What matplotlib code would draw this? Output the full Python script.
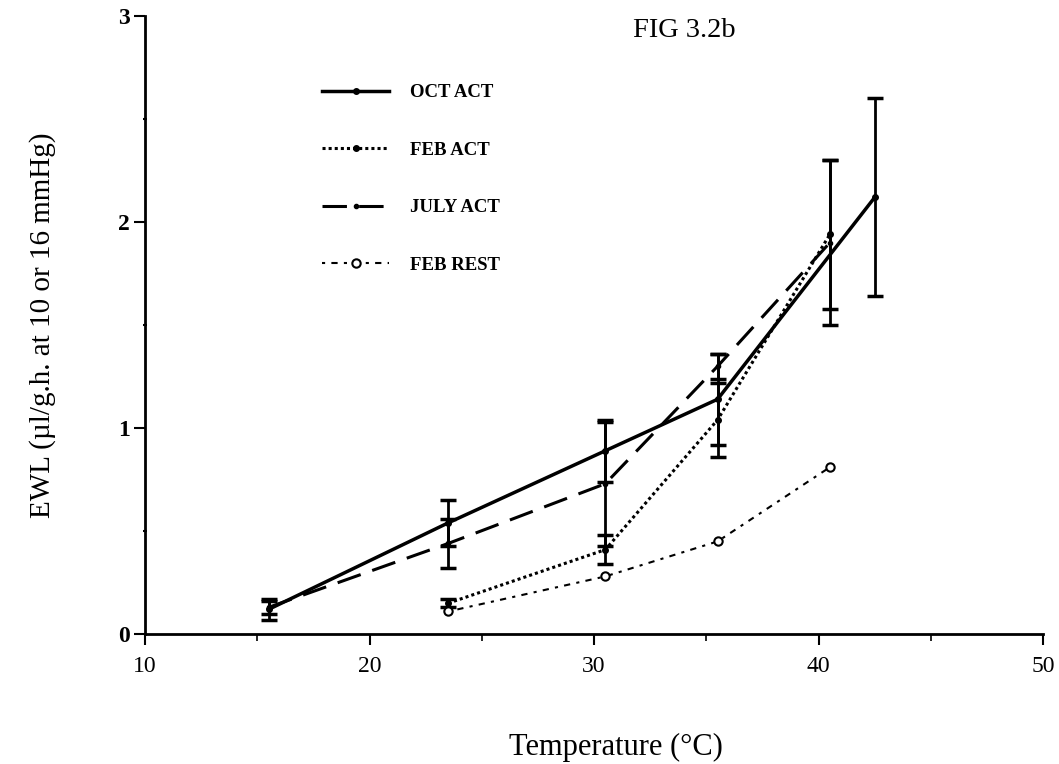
import matplotlib
matplotlib.use("Agg")
import matplotlib.pyplot as plt
from matplotlib.lines import Line2D
from matplotlib.ticker import MultipleLocator

plt.rcParams['font.family'] = ['Liberation Serif', 'DejaVu Serif']

# temperatures (deg C)
oct_t = [15.5, 23.5, 30.5, 35.5, 42.5]
feb_t = [23.5, 30.5, 35.5, 40.5]
jul_t = [15.5, 23.5, 30.5, 35.5, 40.5]
rest_t = [23.5, 30.5, 35.5, 40.5]

# EWL values and errors
oct_act = [0.12, 0.54, 0.89, 1.14, 2.12]
oct_err = [0.05, 0.11, 0.15, 0.22, 0.48]
feb_act = [0.15, 0.41, 1.04, 1.94]
feb_err = [0.02, 0.07, 0.18, 0.36]
jul_act = [0.13, 0.44, 0.73, 1.30, 1.90]
jul_err = [0.03, 0.12, 0.30, 0.06, 0.40]
feb_rest = [0.11, 0.28, 0.45, 0.81]

labels = ['OCT ACT', 'FEB ACT', 'JULY ACT', 'FEB REST']

fig = plt.figure(figsize=(10.59, 7.64), dpi=100)
ax = fig.add_axes([0.137, 0.170, 0.848, 0.809])

# line styles for each series
st_oct = dict(ls='-', lw=2.5, marker='o', ms=4)
st_feb = dict(ls=(0, (1, 1)), lw=2.2, marker='o', ms=4)
st_jul = dict(ls=(0, (8, 4)), lw=2.2, marker='o', ms=3)
st_rest = dict(ls=(0, (1.5, 3, 3, 3)), lw=1.5, marker='o', ms=6, mfc='white', mew=1.5)

eb = dict(color='black', elinewidth=2, capsize=6, capthick=2.5, fmt='')
ax.errorbar(oct_t, oct_act, yerr=oct_err, **st_oct, **eb)
ax.errorbar(feb_t, feb_act, yerr=feb_err, **st_feb, **eb)
ax.errorbar(jul_t, jul_act, yerr=jul_err, **st_jul, **eb)
ax.plot(rest_t, feb_rest, color='black', **st_rest)

ax.set_xlim(10, 50)
ax.set_ylim(0, 3)
ax.xaxis.set_major_locator(MultipleLocator(10))
ax.xaxis.set_minor_locator(MultipleLocator(5))
ax.yaxis.set_major_locator(MultipleLocator(1))
ax.yaxis.set_minor_locator(MultipleLocator(0.5))
for s in ['top', 'right']:
    ax.spines[s].set_visible(False)
for s in ['left', 'bottom']:
    ax.spines[s].set_linewidth(2)
ax.tick_params(which='major', length=8, width=1.5, direction='out')
ax.tick_params(axis='y', which='minor', length=3, width=1.5, direction='inout')
ax.tick_params(axis='x', which='minor', length=5, width=1.2, direction='out')
ax.tick_params(axis='x', labelsize=17, pad=8)
ax.tick_params(axis='y', labelsize=17, pad=3)
for lab in ax.get_yticklabels():
    lab.set_fontweight('bold')

ax.set_xlabel('Temperature (°C)', fontsize=22)
ax.xaxis.set_label_coords(0.5245, -0.160)
ax.set_ylabel('EWL (µl/g.h. at 10 or 16 mmHg)', fontsize=21)
ax.yaxis.set_label_coords(-0.099, 0.5)

fig.text(0.598, 0.960, 'FIG 3.2b', fontsize=20.5, va='center')

handles = [Line2D([], [], color='black', **st) for st in (st_oct, st_feb, st_jul, st_rest)]
leg = ax.legend(handles, labels, loc='upper left', bbox_to_anchor=(0.288, 0.912),
                bbox_transform=fig.transFigure, frameon=False,
                handlelength=3.6, labelspacing=2.15, handletextpad=1.1,
                prop={'size': 13.5, 'weight': 'bold'})

fig.savefig('out.png', dpi=100)
